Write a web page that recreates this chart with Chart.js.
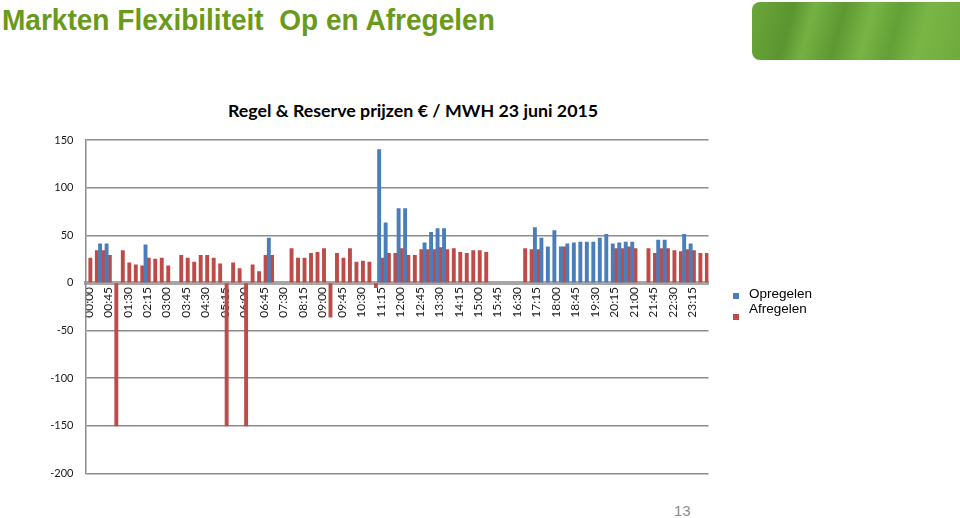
<!DOCTYPE html>
<html lang="nl">
<head>
<meta charset="UTF-8">
<title>Markten Flexibiliteit Op en Afregelen</title>
<script src="https://cdn.jsdelivr.net/npm/chart.js@4.4.1/dist/chart.umd.min.js"></script>
<style>
  body {
    margin: 0;
    width: 960px;
    height: 518px;
    background: #ffffff;
    position: relative;
    overflow: hidden;
    font-family: 'Liberation Sans', Arial, sans-serif;
  }
  #kop {
    position: absolute;
    left: 2px;
    top: 4px;
    display: inline-block;
    font-family: 'Liberation Sans Narrow', 'Liberation Sans', Arial, sans-serif;
    font-weight: bold;
    font-size: 29px;
    color: #6a9a1c;
    white-space: nowrap;
    transform-origin: 0 0;
  }
  #balk {
    position: absolute;
    left: 752px;
    top: 2px;
    width: 220px;
    height: 58px;
    border-radius: 8px;
    background: linear-gradient(105deg, #6aa83a 0%, #5b9430 18%, #74b142 27%, #5e9832 40%, #78b545 52%, #63a036 64%, #7ab646 76%, #6aa83a 100%);
  }
  #titel {
    position: absolute;
    left: 0;
    width: 826px;
    top: 99px;
    text-align: center;
    font-family: Lato, 'Open Sans', sans-serif;
    font-weight: bold;
    font-size: 17.8px;
    color: #000000;
  }
  #vak {
    position: absolute;
    left: 0;
    top: 95px;
    width: 960px;
    height: 400px;
  }
  .leg {
    position: absolute;
    left: 733px;
    font-size: 13.5px;
    color: #000000;
  }
  .leg i {
    position: absolute;
    left: 0;
    width: 6px;
    height: 6px;
  }
  .leg span {
    position: absolute;
    left: 16px;
    top: 0;
    white-space: nowrap;
  }
  #pagina {
    position: absolute;
    left: 674px;
    top: 502px;
    font-size: 15px;
    color: #8c8c8c;
  }
</style>
</head>
<body>
  <span id="kop">Markten Flexibiliteit&nbsp; Op en Afregelen</span>
  <div id="balk"></div>
  <div id="titel">Regel &amp; Reserve prijzen € / MWH 23 juni 2015</div>
  <div id="vak"><canvas id="prijzen" width="960" height="400"></canvas></div>
  <div class="leg" style="top:286px"><i style="top:7px;background:#4a7ebb"></i><span>Opregelen</span></div>
  <div class="leg" style="top:301px"><i style="top:13px;background:#be4b48"></i><span>Afregelen</span></div>
  <div id="pagina">13</div>

  <script>
    // kwartieren van 23 juni 2015
    const kwartieren = [
      "00:00","00:15","00:30","00:45","01:00","01:15","01:30","01:45",
      "02:00","02:15","02:30","02:45","03:00","03:15","03:30","03:45",
      "04:00","04:15","04:30","04:45","05:00","05:15","05:30","05:45",
      "06:00","06:15","06:30","06:45","07:00","07:15","07:30","07:45",
      "08:00","08:15","08:30","08:45","09:00","09:15","09:30","09:45",
      "10:00","10:15","10:30","10:45","11:00","11:15","11:30","11:45",
      "12:00","12:15","12:30","12:45","13:00","13:15","13:30","13:45",
      "14:00","14:15","14:30","14:45","15:00","15:15","15:30","15:45",
      "16:00","16:15","16:30","16:45","17:00","17:15","17:30","17:45",
      "18:00","18:15","18:30","18:45","19:00","19:15","19:30","19:45",
      "20:00","20:15","20:30","20:45","21:00","21:15","21:30","21:45",
      "22:00","22:15","22:30","22:45","23:00","23:15","23:30","23:45"
    ];

    // Opregelen (blauw), per kwartier
    const opregelen = [
      null, null, 41, 41, null, null, null, null,
      null, 40, null, null, null, null, null, null,
      null, null, null, null, null, null, null, null,
      null, null, null, null, 47, null, null, null,
      null, null, null, null, null, null, null, null,
      null, null, null, null, null, 140, 63, null,
      78, 78, null, null, 42, 53, 57, 57,
      null, null, null, null, null, null, null, null,
      null, null, null, null, null, 58, 47, 38,
      55, 38, 41, 42, 43, 43, 43, 47,
      51, 41, 42, 43, 43, null, null, null,
      45, 45, null, null, 51, 41, null, null
    ];

    // Afregelen (rood), per kwartier
    const afregelen = [
      26, 34, 34, 29, -150, 34, 21, 19,
      18, 26, 25, 26, 18, null, 29, 26,
      22, 29, 29, 26, 20, -150, 21, 15,
      -150, 19, 12, 29, 29, null, null, 36,
      26, 26, 31, 32, 36, -36, 31, 26,
      36, 22, 23, 22, -5, 26, 31, 31,
      36, 29, 29, 35, 35, 35, 37, 35,
      36, 32, 31, 34, 34, 32, null, null,
      null, null, null, 36, 35, 35, null, null,
      null, 38, null, null, null, null, null, null,
      null, 36, 36, 38, 36, null, 36, 31,
      36, 36, 34, 33, 35, 34, 31, 31
    ];

    const yTicks = [150, 100, 50, 0, -50, -100, -150, -200];

    // titel op de breedte van het origineel brengen
    const kop = document.getElementById('kop');
    kop.style.transform = 'scaleX(' + (493 / kop.offsetWidth) + ')';

    new Chart(document.getElementById('prijzen'), {
      type: 'bar',
      data: {
        labels: kwartieren,
        datasets: [
          { label: 'Opregelen', data: opregelen, backgroundColor: '#4a7ebb' },
          { label: 'Afregelen', data: afregelen, backgroundColor: '#be4b48' }
        ]
      },
      options: {
        responsive: false,
        animation: false,
        events: [],
        layout: { padding: { left: 0, right: 251.5, top: 45, bottom: 21.5 } },
        datasets: { bar: { categoryPercentage: 1, barPercentage: 1 } },
        plugins: { legend: { display: false }, tooltip: { enabled: false } },
        scales: {
          x: {
            position: { y: 0 },
            grid: { display: false, drawTicks: false },
            border: { display: true, color: '#a6a6a6', width: 4 },
            ticks: {
              autoSkip: false,
              minRotation: 90,
              maxRotation: 90,
              padding: 4,
              color: '#1a1a1a',
              font: { family: 'Lato', size: 12 },
              callback: function (v, i) { return i % 3 === 0 ? kwartieren[i] : ''; }
            }
          },
          y: {
            min: -200,
            max: 150,
            afterFit: function (s) { s.width = 85.5; },
            afterBuildTicks: function (s) { s.ticks = yTicks.map(v => ({ value: v })); },
            grid: { color: '#8c8c8c', lineWidth: 1.5, drawTicks: false },
            border: { display: true, color: '#8c8c8c', width: 1.5 },
            ticks: { padding: 12, color: '#1a1a1a', font: { family: 'Lato', size: 11 } }
          }
        }
      }
    });
  </script>
</body>
</html>
